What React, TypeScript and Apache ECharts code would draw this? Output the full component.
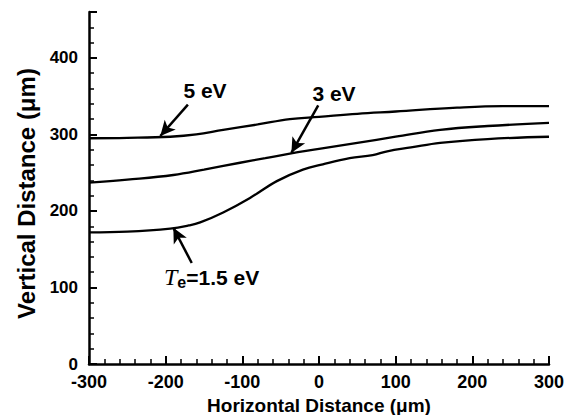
import React, { useEffect, useRef } from "react";
import * as echarts from "echarts";

const xTicks = [-300, -200, -100, 0, 100, 200, 300];
const yTicks = [0, 100, 200, 300, 400];

const curve5eV: [number, number][] = [
  [-300, 295], [-250, 295.5], [-194, 297], [-160, 300], [-125, 306], [-80, 313],
  [-38, 320], [0, 323], [50, 327], [100, 330], [180, 335], [240, 337], [300, 337],
];
const curve3eV: [number, number][] = [
  [-300, 237], [-250, 241], [-190, 247], [-150, 254], [-103, 263], [-70, 269],
  [-38, 275], [0, 281], [50, 289], [100, 297], [158, 306], [220, 311], [300, 315],
];
const curve15eV: [number, number][] = [
  [-300, 172], [-250, 173], [-194, 177], [-170, 181], [-155, 185], [-125, 198],
  [-90, 217], [-55, 239], [-21, 254], [5, 261], [40, 269], [70, 273], [89, 278],
  [120, 283], [158, 289], [220, 294], [300, 297],
];

// arrow annotations: [start, tip] in data coords
const arrow5eV: [number, number][] = [[-171, 339], [-207, 298]];
const arrow3eV: [number, number][] = [[-1, 338], [-36, 276]];
const arrow15eV: [number, number][] = [[-166, 132], [-190, 178]];

const FONT = "'Liberation Sans', Arial, sans-serif";

function arrowMark(a: [number, number][]) {
  return {
    silent: true,
    symbol: ["none", "arrow"],
    symbolSize: [11, 15],
    label: { show: false },
    lineStyle: { color: "#000", width: 2.5, type: "solid" },
    data: [[{ coord: a[0] }, { coord: a[1] }]],
  };
}

export default function App() {
  const ref = useRef<HTMLDivElement>(null);
  useEffect(() => {
    if (!ref.current) return;
    const chart = echarts.init(ref.current, undefined, { renderer: "svg" });
    const lineSeries = (name: string, data: [number, number][], arrow: [number, number][]) => ({
      name,
      type: "line",
      data,
      smooth: 0.4,
      showSymbol: false,
      symbol: "none",
      lineStyle: { color: "#000", width: 2.3 },
      markLine: arrowMark(arrow),
    });
    const axisCommon = {
      type: "value",
      interval: 100,
      nameLocation: "middle",
      axisLine: { show: true, onZero: false, lineStyle: { color: "#000", width: 2.5 } },
      axisTick: { show: true, inside: true, length: 8, lineStyle: { color: "#000", width: 2 } },
      minorTick: { show: true, splitNumber: 5, length: 5, lineStyle: { color: "#000", width: 1.5 } },
      splitLine: { show: false },
      minorSplitLine: { show: false },
    };
    const tickLabel = (ticks: number[], margin: number, size: number) => ({
      margin,
      fontFamily: FONT,
      fontWeight: "bold",
      fontSize: size,
      lineHeight: 14,
      color: "#000",
      formatter: (v: number) => (ticks.includes(v) ? String(v) : ""),
    });
    chart.setOption({
      animation: false,
      backgroundColor: "#fff",
      grid: { left: 89, right: 20, top: 12, bottom: 51, containLabel: false, outerBoundsMode: "none" },
      xAxis: {
        ...axisCommon,
        min: -300,
        max: 300,
        name: "Horizontal Distance (\u03bcm)",
        nameGap: 28,
        nameTextStyle: { fontFamily: FONT, fontWeight: "bold", fontSize: 19, color: "#000" },
        axisLabel: tickLabel(xTicks, 11, 18),
      },
      yAxis: {
        ...axisCommon,
        min: 0,
        max: 460,
        name: "Vertical Distance (\u03bcm)",
        nameGap: 50,
        nameTextStyle: {
          fontFamily: FONT,
          fontWeight: "bold",
          fontSize: 24,
          color: "#000",
          padding: [0, 11, 0, 0],
        },
        axisLabel: tickLabel(yTicks, 11, 17),
      },
      series: [
        lineSeries("5 eV", curve5eV, arrow5eV),
        lineSeries("3 eV", curve3eV, arrow3eV),
        lineSeries("1.5 eV", curve15eV, arrow15eV),
      ],
      graphic: [
        {
          type: "text",
          x: 205,
          y: 90,
          style: {
            text: "5 eV",
            font: `bold 21px ${FONT}`,
            fill: "#000",
            align: "center",
            verticalAlign: "middle",
          },
        },
        {
          type: "text",
          x: 334,
          y: 93,
          style: {
            text: "3 eV",
            font: `bold 21px ${FONT}`,
            fill: "#000",
            align: "center",
            verticalAlign: "middle",
          },
        },
        {
          type: "text",
          x: 164,
          y: 277,
          style: {
            text: "{t|T}{e|e}{n|=1.5 eV}",
            align: "left",
            verticalAlign: "middle",
            rich: {
              t: { fontFamily: "'Liberation Serif', 'Times New Roman', serif", fontStyle: "italic", fontSize: 24, color: "#000" },
              e: { fontFamily: FONT, fontWeight: "bold", fontSize: 16, color: "#000", padding: [10, 0, 0, 0] },
              n: { fontFamily: FONT, fontWeight: "bold", fontSize: 21, color: "#000" },
            },
          },
        },
      ],
    });
    return () => chart.dispose();
  }, []);
  return (
    <div
      ref={ref}
      style={{ position: "absolute", left: 0, top: 0, width: 569, height: 415 }}
    />
  );
}
